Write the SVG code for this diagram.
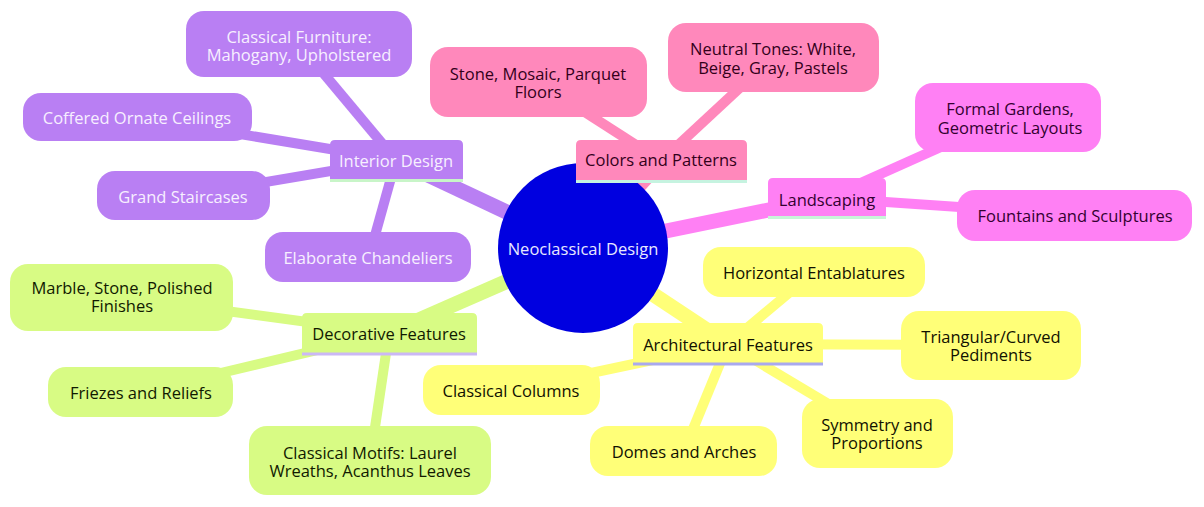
<svg xmlns="http://www.w3.org/2000/svg" width="1204" height="507" viewBox="0 0 1204 507">
<style>
text{font-family:"Open Sans","Noto Sans","Liberation Sans",sans-serif;font-size:16.5px;text-anchor:middle;dominant-baseline:central}
.e1{stroke-width:15;stroke-linecap:butt;fill:none}
.e2{stroke-width:10;stroke-linecap:butt;fill:none}
.pu{fill:#b97ff3}.pus{stroke:#b97ff3}.put{fill:#f7efff}
.pk{fill:#ff88bb}.pks{stroke:#ff88bb}.pkt{fill:#33001a}
.mg{fill:#ff80f4}.mgs{stroke:#ff80f4}.mgt{fill:#330030}
.ye{fill:#ffff78}.yes{stroke:#ffff78}.yet{fill:#111100}
.gr{fill:#d8fb84}.grs{stroke:#d8fb84}.grt{fill:#111a00}
</style>
<g id="connectors">
<line class="e1 pus" x1="583" y1="248" x2="396" y2="160"/>
<line class="e1 pks" x1="583" y1="248" x2="661" y2="161"/>
<line class="e1 mgs" x1="583" y1="248" x2="827" y2="198"/>
<line class="e1 yes" x1="583" y1="248" x2="728" y2="344"/>
<line class="e1 grs" x1="583" y1="248" x2="389" y2="333"/>
<line class="e2 pus" x1="396" y1="160" x2="299" y2="44"/>
<line class="e2 pus" x1="396" y1="160" x2="137" y2="117"/>
<line class="e2 pus" x1="396" y1="160" x2="183" y2="196"/>
<line class="e2 pus" x1="396" y1="160" x2="369" y2="257"/>
<line class="e2 pks" x1="661" y1="161" x2="538" y2="82"/>
<line class="e2 pks" x1="661" y1="161" x2="773" y2="57"/>
<line class="e2 mgs" x1="827" y1="198" x2="1008" y2="117"/>
<line class="e2 mgs" x1="827" y1="198" x2="1075" y2="215"/>
<line class="e2 yes" x1="728" y1="344" x2="814" y2="272"/>
<line class="e2 yes" x1="728" y1="344" x2="991" y2="345"/>
<line class="e2 yes" x1="728" y1="344" x2="511" y2="390"/>
<line class="e2 yes" x1="728" y1="344" x2="684" y2="451"/>
<line class="e2 yes" x1="728" y1="344" x2="877" y2="433"/>
<line class="e2 grs" x1="389" y1="333" x2="122" y2="297"/>
<line class="e2 grs" x1="389" y1="333" x2="141" y2="392"/>
<line class="e2 grs" x1="389" y1="333" x2="370" y2="461"/>
</g>
<g id="root">
<circle cx="583" cy="248" r="85" fill="#0000e0"/>
<text x="583" y="248" fill="#e8e8ff">Neoclassical Design</text>
</g>
<g id="interior">
<path class="pu" d="M330 180 V145 Q330 140 335 140 H458 Q463 140 463 145 V180 Z"/>
<line x1="330" y1="180.5" x2="463" y2="180.5" stroke="#c8f5c8" stroke-width="3"/>
<text class="put" x="396" y="160">Interior Design</text>
</g>
<g id="furniture">
<rect class="pu" x="186" y="11" width="226" height="66" rx="18"/>
<text class="put" x="299" y="36">Classical Furniture:</text>
<text class="put" x="299" y="54">Mahogany, Upholstered</text>
</g>
<g id="ceilings">
<rect class="pu" x="23" y="93" width="229" height="48" rx="18"/>
<text class="put" x="137" y="117">Coffered Ornate Ceilings</text>
</g>
<g id="staircases">
<rect class="pu" x="97" y="171" width="173" height="49" rx="18"/>
<text class="put" x="183" y="196">Grand Staircases</text>
</g>
<g id="chandeliers">
<rect class="pu" x="265" y="232" width="206" height="50" rx="18"/>
<text class="put" x="368" y="257">Elaborate Chandeliers</text>
</g>
<g id="colors">
<path class="pk" d="M576 181 V145 Q576 140 581 140 H742 Q747 140 747 145 V181 Z"/>
<line x1="576" y1="181.5" x2="747" y2="181.5" stroke="#c6f3e0" stroke-width="3"/>
<text class="pkt" x="661" y="159">Colors and Patterns</text>
</g>
<g id="floors">
<rect class="pk" x="430" y="47" width="217" height="70" rx="18"/>
<text class="pkt" x="538" y="73">Stone, Mosaic, Parquet</text>
<text class="pkt" x="538" y="91">Floors</text>
</g>
<g id="neutral">
<rect class="pk" x="668" y="23" width="211" height="69" rx="18"/>
<text class="pkt" x="773" y="48">Neutral Tones: White,</text>
<text class="pkt" x="773" y="67">Beige, Gray, Pastels</text>
</g>
<g id="landscaping">
<path class="mg" d="M768 217 V183 Q768 178 773 178 H881 Q886 178 886 183 V217 Z"/>
<line x1="768" y1="217.5" x2="886" y2="217.5" stroke="#c8f5d8" stroke-width="3"/>
<text class="mgt" x="827" y="199">Landscaping</text>
</g>
<g id="gardens">
<rect class="mg" x="915" y="83" width="186" height="69" rx="18"/>
<text class="mgt" x="1010" y="108">Formal Gardens,</text>
<text class="mgt" x="1010" y="127">Geometric Layouts</text>
</g>
<g id="fountains">
<rect class="mg" x="957" y="190" width="235" height="51" rx="18"/>
<text class="mgt" x="1075" y="215">Fountains and Sculptures</text>
</g>
<g id="architectural">
<path class="ye" d="M633 363 V328 Q633 323 638 323 H818 Q823 323 823 328 V363 Z"/>
<line x1="633" y1="364" x2="823" y2="364" stroke="#a9a9ee" stroke-width="3"/>
<text class="yet" x="728" y="344">Architectural Features</text>
</g>
<g id="entablatures">
<rect class="ye" x="703" y="247" width="222" height="50" rx="18"/>
<text class="yet" x="814" y="272">Horizontal Entablatures</text>
</g>
<g id="pediments">
<rect class="ye" x="901" y="311" width="180" height="69" rx="18"/>
<text class="yet" x="991" y="336">Triangular/Curved</text>
<text class="yet" x="991" y="354">Pediments</text>
</g>
<g id="columns">
<rect class="ye" x="423" y="365" width="177" height="50" rx="18"/>
<text class="yet" x="511" y="390">Classical Columns</text>
</g>
<g id="domes">
<rect class="ye" x="590" y="426" width="187" height="50" rx="18"/>
<text class="yet" x="684" y="451">Domes and Arches</text>
</g>
<g id="symmetry">
<rect class="ye" x="802" y="399" width="151" height="69" rx="18"/>
<text class="yet" x="877" y="424">Symmetry and</text>
<text class="yet" x="877" y="442">Proportions</text>
</g>
<g id="decorative">
<path class="gr" d="M302 353 V318 Q302 313 307 313 H472 Q477 313 477 318 V353 Z"/>
<line x1="302" y1="354" x2="477" y2="354" stroke="#cbb8f5" stroke-width="3"/>
<text class="grt" x="389" y="333">Decorative Features</text>
</g>
<g id="marble">
<rect class="gr" x="10" y="264" width="223" height="67" rx="18"/>
<text class="grt" x="122" y="287">Marble, Stone, Polished</text>
<text class="grt" x="122" y="305">Finishes</text>
</g>
<g id="friezes">
<rect class="gr" x="48" y="367" width="185" height="50" rx="18"/>
<text class="grt" x="141" y="392">Friezes and Reliefs</text>
</g>
<g id="motifs">
<rect class="gr" x="249" y="426" width="242" height="69" rx="18"/>
<text class="grt" x="370" y="452">Classical Motifs: Laurel</text>
<text class="grt" x="370" y="470">Wreaths, Acanthus Leaves</text>
</g>
</svg>
